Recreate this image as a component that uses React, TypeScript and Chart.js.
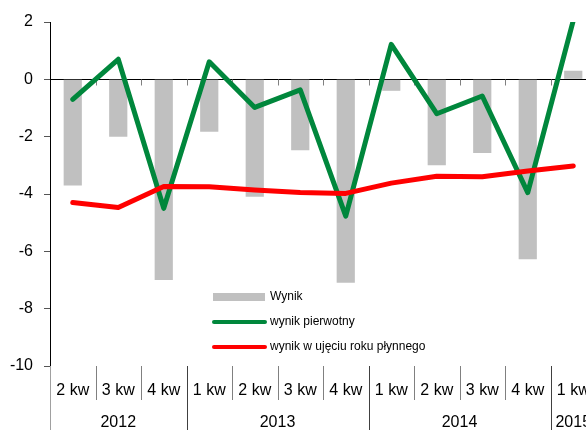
import React, { useEffect, useRef } from "react";
import { Chart, registerables } from "chart.js";

Chart.register(...registerables);

const quarters = ["2 kw", "3 kw", "4 kw", "1 kw", "2 kw", "3 kw", "4 kw", "1 kw", "2 kw", "3 kw", "4 kw", "1 kw"];
const years = ["2012", "2013", "2014", "2015"];
const yearSpans = [3, 4, 4, 1];

const wynik = [-3.7, -2.0, -7.0, -1.83, -4.1, -2.47, -7.1, -0.4, -3.0, -2.57, -6.28, 0.3];
const wynikPierwotny = [-0.7, 0.7, -4.5, 0.61, -0.98, -0.37, -4.77, 1.22, -1.2, -0.58, -3.95, 2.05];
const wynikRoczny = [-4.3, -4.47, -3.74, -3.75, -3.86, -3.95, -3.98, -3.62, -3.38, -3.4, -3.2, -3.02];

const seriesNames = ["Wynik", "wynik pierwotny", "wynik w ujęciu roku płynnego"];
const colors = { bar: "#C0C0C0", green: "#00873C", red: "#FF0000" };

const FONT = "Liberation Sans, Arial, sans-serif";

const excelAxisPlugin = {
  id: "excelAxis",
  beforeDatasetsDraw(chart: any) {
    const { ctx, scales } = chart;
    const x = scales.x;
    const y = scales.y;
    const y0 = Math.round(y.getPixelForValue(0)) + 0.5;
    const step = x.getPixelForValue(1) - x.getPixelForValue(0);
    ctx.save();
    ctx.strokeStyle = "#808080";
    ctx.lineWidth = 1;
    for (let i = 1; i < quarters.length; i++) {
      const bx = Math.round(x.getPixelForValue(i) - step / 2) + 0.5;
      ctx.beginPath();
      ctx.moveTo(bx, y0);
      ctx.lineTo(bx, y0 + 6);
      ctx.stroke();
    }
    ctx.restore();
  },
  afterDraw(chart: any) {
    const { ctx, scales, chartArea } = chart;
    const x = scales.x;
    const step = x.getPixelForValue(1) - x.getPixelForValue(0);
    const bottom = chartArea.bottom;
    const H = chart.height;
    ctx.save();
    // quarter separators and labels
    ctx.lineWidth = 1;
    ctx.font = `16px ${FONT}`;
    ctx.fillStyle = "#000";
    ctx.textAlign = "center";
    ctx.textBaseline = "alphabetic";
    const yearStarts: number[] = [];
    let acc = 0;
    yearSpans.forEach((s) => {
      yearStarts.push(acc);
      acc += s;
    });
    for (let i = 0; i < quarters.length; i++) {
      const cx = x.getPixelForValue(i);
      ctx.fillText(quarters[i], cx, bottom + 29);
      const bx = Math.round(cx - step / 2) + 0.5;
      const isYear = yearStarts.includes(i);
      ctx.strokeStyle = isYear ? (i === 0 ? "#A0A0A0" : "#404040") : "#808080";
      ctx.beginPath();
      ctx.moveTo(bx, bottom);
      ctx.lineTo(bx, isYear ? H : bottom + 34);
      ctx.stroke();
    }
    // year labels
    years.forEach((yr, k) => {
      const start = yearStarts[k];
      const end = start + yearSpans[k] - 1;
      const left = x.getPixelForValue(start) - step / 2;
      const right = x.getPixelForValue(end) + step / 2;
      ctx.fillText(yr, (left + right) / 2, bottom + 61);
    });
    // legend
    const lx = chartArea.left + 163;
    const ly = chartArea.top + 275;
    const gap = 25;
    ctx.font = `12px ${FONT}`;
    ctx.textAlign = "left";
    ctx.textBaseline = "middle";
    ctx.fillStyle = colors.bar;
    ctx.fillRect(lx, ly - 4, 52, 8);
    ctx.lineCap = "round";
    ctx.lineWidth = 4;
    ctx.strokeStyle = colors.green;
    ctx.beginPath();
    ctx.moveTo(lx + 1, ly + gap);
    ctx.lineTo(lx + 52, ly + gap);
    ctx.stroke();
    ctx.strokeStyle = colors.red;
    ctx.beginPath();
    ctx.moveTo(lx + 1, ly + 2 * gap);
    ctx.lineTo(lx + 52, ly + 2 * gap);
    ctx.stroke();
    ctx.fillStyle = "#000";
    seriesNames.forEach((n, k) => ctx.fillText(n, lx + 57, ly + k * gap));
    ctx.restore();
  },
};

export default function App() {
  const ref = useRef<HTMLCanvasElement | null>(null);
  useEffect(() => {
    if (!ref.current) return;
    const chart = new Chart(ref.current, {
      type: "bar",
      data: {
        labels: quarters,
        datasets: [
          {
            type: "line",
            label: seriesNames[2],
            data: wynikRoczny,
            borderColor: colors.red,
            backgroundColor: colors.red,
            borderWidth: 5,
            pointRadius: 0,
            tension: 0,
            borderCapStyle: "round",
            borderJoinStyle: "round",
            order: 1,
          } as any,
          {
            type: "line",
            label: seriesNames[1],
            data: wynikPierwotny,
            borderColor: colors.green,
            backgroundColor: colors.green,
            borderWidth: 5,
            pointRadius: 0,
            tension: 0,
            borderCapStyle: "round",
            borderJoinStyle: "round",
            clip: 0,
            order: 2,
          } as any,
          {
            type: "bar",
            label: seriesNames[0],
            data: wynik,
            backgroundColor: colors.bar,
            borderWidth: 0,
            barPercentage: 0.4,
            categoryPercentage: 1,
            order: 3,
          } as any,
        ],
      },
      options: {
        animation: false,
        responsive: false,
        maintainAspectRatio: false,
        layout: { padding: { left: 0, right: 4, top: 22, bottom: 64 } },
        plugins: { legend: { display: false }, tooltip: { enabled: false } },
        scales: {
          x: { type: "category", display: false, offset: true },
          y: {
            min: -10,
            max: 2,
            afterFit: (s: any) => {
              s.width = 50;
            },
            ticks: {
              stepSize: 2,
              font: { family: FONT, size: 16 },
              color: "#000",
              padding: 11,
            },
            grid: {
              drawOnChartArea: true,
              color: (c: any) => (c.tick && c.tick.value === 0 ? "#000" : "rgba(0,0,0,0)"),
              tickColor: "#555",
              tickLength: 6,
              lineWidth: 1,
            },
            border: { display: true, color: "#000", width: 1 },
          },
        },
      },
      plugins: [excelAxisPlugin],
    });
    return () => chart.destroy();
  }, []);
  return (
    <div style={{ position: "fixed", left: 0, top: 0, width: 586, height: 430, overflow: "hidden", background: "#fff" }}>
      <canvas ref={ref} width={600} height={430} style={{ display: "block" }} />
    </div>
  );
}
